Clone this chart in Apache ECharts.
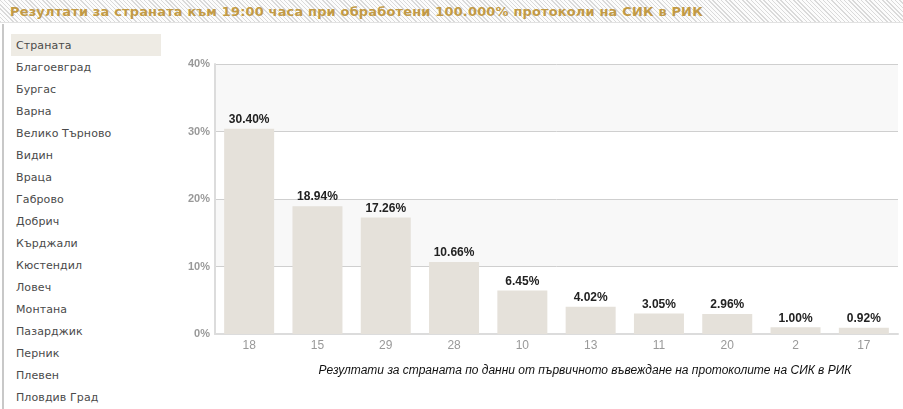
<!DOCTYPE html>
<html>
<head>
<meta charset="utf-8">
<script src="https://cdn.jsdelivr.net/npm/echarts@6/dist/echarts.min.js"></script>
<style>
  html, body { margin: 0; padding: 0; width: 903px; height: 409px; overflow: hidden; background: #fff; }
  #head {
    position: absolute; left: 0; top: 0; width: 903px; height: 23px;
    background: repeating-linear-gradient(45deg, #dadada 0 1px, #fcfcfc 1px 3px);
    border-bottom: 1px solid #e2e2e2;
    font: bold 13px "DejaVu Sans", Verdana, sans-serif; color: #c29a45; letter-spacing: 0.15px;
    line-height: 24px; padding-left: 10px; box-sizing: border-box; white-space: nowrap;
  }
  #side {
    position: absolute; left: 2px; top: 24px; width: 1px; height: 385px;
    border-left: 2px solid #c8c8c8;
  }
  #menu { position: absolute; left: 11px; top: 34px; margin: 0; padding: 0; list-style: none; width: 150px; }
  #menu li {
    height: 17px; line-height: 17px; padding: 5px 0 0 5px;
    font: 11px "DejaVu Sans", Verdana, sans-serif; color: #4a4a4a; letter-spacing: 0.1px;
  }
  #menu li.on { background: #eeebe4; }
  #chart { position: absolute; left: 165px; top: 24px; width: 738px; height: 385px; }
</style>
</head>
<body>
<div id="head">Резултати за страната към 19:00 часа при обработени 100.000% протоколи на СИК в РИК</div>
<div id="side"></div>
<ul id="menu"></ul>
<div id="chart"></div>
<script>
// райони в лявото меню
const regions = ['Страната', 'Благоевград', 'Бургас', 'Варна', 'Велико Търново', 'Видин', 'Враца',
  'Габрово', 'Добрич', 'Кърджали', 'Кюстендил', 'Ловеч', 'Монтана', 'Пазарджик', 'Перник',
  'Плевен', 'Пловдив Град'];
// номера на партиите и процентите
const parties = ['18', '15', '29', '28', '10', '13', '11', '20', '2', '17'];
const percents = [30.40, 18.94, 17.26, 10.66, 6.45, 4.02, 3.05, 2.96, 1.00, 0.92];
const yTicks = [0, 10, 20, 30, 40];
const caption = 'Резултати за страната по данни от първичното въвеждане на протоколите на СИК в РИК';

const menu = document.getElementById('menu');
regions.forEach((name, i) => {
  let li = document.createElement('li');
  li.textContent = name;
  if (i === 0) li.className = 'on';
  menu.appendChild(li);
});

const chart = echarts.init(document.getElementById('chart'));
chart.setOption({
  animation: false,
  title: {
    text: caption,
    left: 415, top: 336, textAlign: 'center',
    textStyle: { fontFamily: 'Liberation Sans', fontSize: 12, fontStyle: 'italic', fontWeight: 'normal', color: '#111' }
  },
  grid: { left: 50, right: 5, top: 40, bottom: 75 },
  xAxis: {
    type: 'category',
    data: parties,
    axisLine: { lineStyle: { color: '#dcdcdc', width: 2 } },
    axisTick: { show: false },
    axisLabel: { color: '#999', fontFamily: 'Liberation Sans', fontSize: 12, margin: 6 }
  },
  yAxis: {
    type: 'value',
    min: yTicks[0], max: yTicks[yTicks.length - 1], interval: 10,
    axisLine: { show: true, lineStyle: { color: '#dcdcdc', width: 2 } },
    axisTick: { show: false },
    axisLabel: { formatter: '{value}%', color: '#999', fontFamily: 'Liberation Sans', fontSize: 11, fontWeight: 'bold', margin: 5 },
    splitLine: { lineStyle: { color: '#cfcfcf', width: 1 } },
    splitArea: { show: true, areaStyle: { color: ['#fff', '#f8f8f8'] } }
  },
  series: [{
    type: 'bar',
    data: percents,
    barWidth: 50,
    itemStyle: { color: '#e5e1da' },
    label: {
      show: true, position: 'top', distance: 3,
      formatter: p => p.value.toFixed(2) + '%',
      color: '#222', fontFamily: 'Liberation Sans', fontSize: 12, fontWeight: 'bold'
    }
  }]
});
</script>
</body>
</html>
